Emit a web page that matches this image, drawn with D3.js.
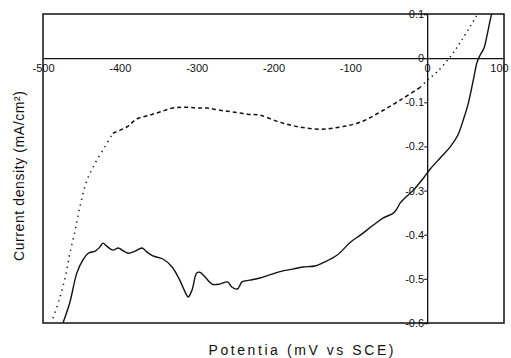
<!DOCTYPE html>
<html>
<head>
<meta charset="utf-8">
<script src="https://cdn.jsdelivr.net/npm/d3@7"></script>
<style>
  html, body { margin: 0; padding: 0; background: #fff; }
  svg { display: block; }
  text { font-family: "Liberation Sans", Arial, sans-serif; fill: #111; }
</style>
</head>
<body>
<svg id="chart" width="511" height="358"></svg>
<script>
// ---- data ----
const xTicks = [-500, -400, -300, -200, -100, 0, 100];
const xTickLabels = ["-500", "-400", "-300", "-200", "-100", "0", "100"];
const yTicks = [0.1, 0, -0.1, -0.2, -0.3, -0.4, -0.5, -0.6];
const yTickLabels = ["0.1", "0", "-0.1", "-0.2", "-0.3", "-0.4", "-0.5", "-0.6"];

// solid curve: potential (mV), current density (mA/cm2)
const solidX = [-474, -465, -456, -448, -441, -432, -426, -422, -417, -409, -402, -397, -389, -380, -371, -365, -357, -344, -332, -322, -315, -311, -306, -300, -296, -289, -280, -270, -260, -254, -247, -241, -231, -218, -205, -188, -175, -162, -146, -136, -117, -100, -87, -70, -57, -44, -39, -35, -29, -18, -5, 4, 17, 30, 40, 47, 53, 60, 65, 69, 74, 78, 82, 84];
const solidY = [-0.600, -0.553, -0.487, -0.457, -0.442, -0.437, -0.428, -0.419, -0.426, -0.435, -0.430, -0.435, -0.442, -0.437, -0.430, -0.439, -0.448, -0.455, -0.473, -0.503, -0.530, -0.541, -0.525, -0.487, -0.485, -0.496, -0.512, -0.512, -0.507, -0.519, -0.523, -0.507, -0.503, -0.498, -0.491, -0.482, -0.478, -0.473, -0.471, -0.464, -0.446, -0.417, -0.401, -0.378, -0.362, -0.351, -0.340, -0.328, -0.317, -0.299, -0.272, -0.251, -0.226, -0.201, -0.174, -0.140, -0.106, -0.050, -0.009, 0.007, 0.023, 0.052, 0.086, 0.101];

// dashed/dotted curve
const dashX = [-487, -479, -471, -465, -458, -452, -444, -435, -422, -409, -391, -378, -361, -348, -331, -315, -300, -287, -270, -253, -234, -218, -192, -166, -139, -113, -87, -61, -35, -9, 0, 13, 30, 45, 65];
const dashY = [-0.589, -0.548, -0.496, -0.442, -0.389, -0.337, -0.283, -0.247, -0.208, -0.170, -0.156, -0.138, -0.129, -0.122, -0.113, -0.111, -0.113, -0.113, -0.118, -0.122, -0.127, -0.129, -0.145, -0.156, -0.161, -0.156, -0.145, -0.122, -0.095, -0.066, -0.050, -0.031, 0.003, 0.041, 0.098];

const xTitle = "Potentia (mV vs SCE)";
const yTitle = "Current density (mA/cm\u00B2)";

// ---- chart ----
const svg = d3.select("#chart");
const x = d3.scaleLinear().domain([-500, 100]).range([43, 504]);
const y = d3.scaleLinear().domain([-0.6, 0.1]).range([323, 14]);

const line = d3.line().x(d => x(d[0])).y(d => y(d[1])).curve(d3.curveCatmullRom.alpha(0.5));

// frame
svg.append("rect")
  .attr("x", x(-500)).attr("y", y(0.1))
  .attr("width", x(100) - x(-500)).attr("height", y(-0.6) - y(0.1))
  .attr("fill", "none").attr("stroke", "#111").attr("stroke-width", 1.5);

// x axis at y = 0
const xAxis = d3.axisBottom(x).tickValues(xTicks)
  .tickFormat((d, i) => xTickLabels[i]).tickSize(0).tickPadding(6);
const gx = svg.append("g").attr("transform", `translate(0,${y(0)})`).call(xAxis);
gx.select(".domain").attr("stroke", "#111").attr("stroke-width", 1.3);
gx.selectAll("text").style("font-size", "11px").attr("fill", "#111")
  .attr("dx", d => d === 100 ? -5 : 0);

// y axis at x = 0
const yAxis = d3.axisLeft(y).tickValues(yTicks)
  .tickFormat((d, i) => yTickLabels[i]).tickSize(3).tickPadding(0);
const gy = svg.append("g").attr("transform", `translate(${x(0)},0)`).call(yAxis);
gy.select(".domain").attr("stroke", "#111").attr("stroke-width", 1.3);
gy.selectAll("line").attr("stroke", "#111");
gy.selectAll("text").style("font-size", "11px").attr("fill", "#111");

// solid series
const solidData = solidX.map((v, i) => [v, solidY[i]]);
svg.append("path").datum(solidData)
  .attr("d", line).attr("fill", "none").attr("stroke", "#111").attr("stroke-width", 1.4);

// dashed series: dotted on steep parts, dashed in the middle
const dashData = dashX.map((v, i) => [v, dashY[i]]);
const seg1 = dashData.filter(d => d[0] <= -409);
const seg2 = dashData.filter(d => d[0] >= -409 && d[0] <= -9);
const seg3 = dashData.filter(d => d[0] >= -9);
[[seg1, "1.3,4.5"], [seg2, "4,3"], [seg3, "1.3,4"]].forEach(([s, da]) => {
  svg.append("path").datum(s)
    .attr("d", line).attr("fill", "none").attr("stroke", "#111")
    .attr("stroke-width", 1.5).attr("stroke-dasharray", da);
});

// titles
svg.append("text")
  .attr("x", 301).attr("y", 355)
  .attr("text-anchor", "middle")
  .attr("textLength", 185).attr("lengthAdjust", "spacing")
  .style("font-size", "14px")
  .text(xTitle);

svg.append("text")
  .attr("transform", "translate(24,176) rotate(-90)")
  .attr("text-anchor", "middle")
  .attr("textLength", 170).attr("lengthAdjust", "spacing")
  .style("font-size", "14px")
  .text(yTitle);
</script>
</body>
</html>
